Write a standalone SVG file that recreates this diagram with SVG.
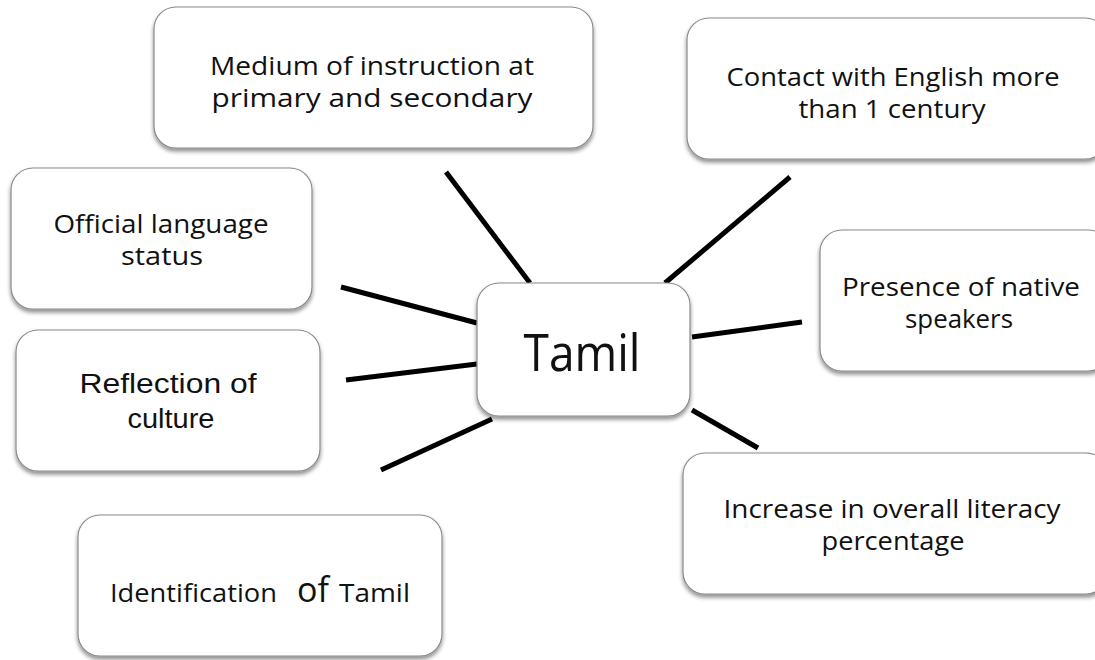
<svg xmlns="http://www.w3.org/2000/svg" width="1095" height="660" viewBox="0 0 1095 660">
<defs>
<filter id="sh" x="-10%" y="-10%" width="120%" height="130%">
<feGaussianBlur in="SourceAlpha" stdDeviation="2"/>
<feOffset dx="0" dy="3" result="b"/>
<feComponentTransfer><feFuncA type="linear" slope="0.45"/></feComponentTransfer>
<feMerge><feMergeNode/><feMergeNode in="SourceGraphic"/></feMerge>
</filter>
<style>
.box{fill:#fff;stroke:#8a8a8a;stroke-width:1.2;filter:url(#sh)}
.t{font-family:"Open Sans","Lato",sans-serif;font-size:25px;fill:#111;text-anchor:middle}
.a{font-family:"Liberation Sans",Arial,sans-serif;font-size:27px;fill:#111;text-anchor:middle}
.c line{stroke:#000;stroke-width:5}
</style>
</defs>
<rect width="1095" height="660" fill="#fff"/>
<g class="c">
<line x1="446" y1="172" x2="530" y2="283"/>
<line x1="790" y1="177" x2="665" y2="283"/>
<line x1="341" y1="287" x2="477" y2="323"/>
<line x1="346" y1="380" x2="477" y2="364"/>
<line x1="381" y1="470" x2="492" y2="419"/>
<line x1="692" y1="337" x2="802" y2="322"/>
<line x1="692" y1="410" x2="758" y2="448"/>
</g>
<g id="medium"><rect class="box" x="154" y="7" width="439" height="141" rx="22"/>
<text class="t" x="372" y="75" textLength="324" lengthAdjust="spacingAndGlyphs">Medium of instruction at</text>
<text class="t" x="372" y="107" textLength="321" lengthAdjust="spacingAndGlyphs">primary and secondary</text></g>
<g id="contact"><rect class="box" x="687" y="18" width="420" height="141" rx="22"/>
<text class="t" x="893" y="86" textLength="333" lengthAdjust="spacingAndGlyphs">Contact with English more</text>
<text class="t" x="892" y="118" textLength="187" lengthAdjust="spacingAndGlyphs">than 1 century</text></g>
<g id="official"><rect class="box" x="11" y="168" width="301" height="141" rx="22"/>
<text class="t" x="161" y="233" textLength="215" lengthAdjust="spacingAndGlyphs">Official language</text>
<text class="t" x="162" y="265" textLength="82" lengthAdjust="spacingAndGlyphs">status</text></g>
<g id="reflection"><rect class="box" x="16" y="330" width="304" height="141" rx="22"/>
<text class="a" x="168" y="393" textLength="177" lengthAdjust="spacingAndGlyphs">Reflection of</text>
<text class="a" x="171" y="428" textLength="87" lengthAdjust="spacingAndGlyphs">culture</text></g>
<g id="tamil"><rect class="box" x="477" y="283" width="213" height="133" rx="22"/>
<text class="t" x="582" y="371" style="font-size:52px" textLength="117" lengthAdjust="spacingAndGlyphs">Tamil</text></g>
<g id="presence"><rect class="box" x="820" y="230" width="290" height="141" rx="22"/>
<text class="t" x="961" y="296" textLength="238" lengthAdjust="spacingAndGlyphs">Presence of native</text>
<text class="t" x="959" y="328" textLength="108" lengthAdjust="spacingAndGlyphs">speakers</text></g>
<g id="increase"><rect class="box" x="683" y="453" width="425" height="141" rx="22"/>
<text class="t" x="892" y="518" textLength="337" lengthAdjust="spacingAndGlyphs">Increase in overall literacy</text>
<text class="t" x="893" y="550" textLength="143" lengthAdjust="spacingAndGlyphs">percentage</text></g>
<g id="identification"><rect class="box" x="78" y="515" width="364" height="141" rx="22"/>
<text class="t" x="110" y="602" style="text-anchor:start;font-size:26px"><tspan textLength="167" lengthAdjust="spacingAndGlyphs">Identification</tspan><tspan x="297" style="font-size:34px">of</tspan><tspan x="339" textLength="71" lengthAdjust="spacingAndGlyphs">Tamil</tspan></text></g>
</svg>
